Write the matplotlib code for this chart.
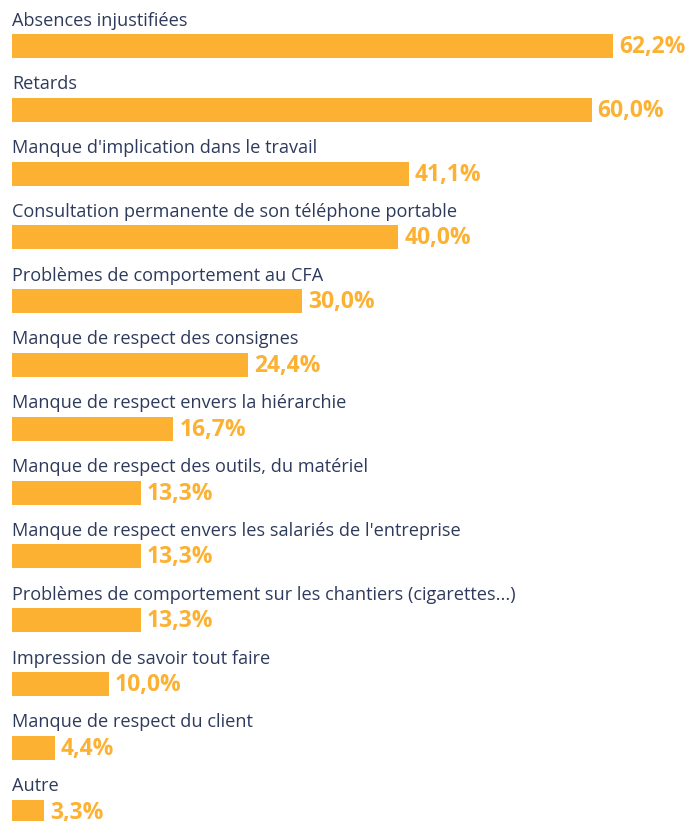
import matplotlib.pyplot as plt

categories = [
    "Absences injustifiées",
    "Retards",
    "Manque d'implication dans le travail",
    "Consultation permanente de son téléphone portable",
    "Problèmes de comportement au CFA",
    "Manque de respect des consignes",
    "Manque de respect envers la hiérarchie",
    "Manque de respect des outils, du matériel",
    "Manque de respect envers les salariés de l'entreprise",
    "Problèmes de comportement sur les chantiers (cigarettes...)",
    "Impression de savoir tout faire",
    "Manque de respect du client",
    "Autre",
]
values = [62.2, 60.0, 41.1, 40.0, 30.0, 24.4, 16.7, 13.3, 13.3, 13.3, 10.0, 4.4, 3.3]

bar_color = "#FDB133"
text_color = "#2E3A5C"

W, H = 692, 821
fig = plt.figure(figsize=(W / 100, H / 100), dpi=100)
ax = fig.add_axes([0, 0, 1, 1])

# pixel-like layout: x in percent, y in pixels from top
px_per_pct = 601 / 62.2
ax.set_xlim(-12 / px_per_pct, (W - 12) / px_per_pct)
ax.set_ylim(H, 0)
ax.axis("off")

row_h = 63.8
ys = [46 + i * row_h for i in range(len(values))]

ax.barh(ys, values, height=24, color=bar_color, left=0)
for y, cat, v in zip(ys, categories, values):
    ax.text(0, y - 25.5, cat, fontsize=13.05, color=text_color,
            family="Open Sans", va="center", ha="left")
    ax.text(v + 6 / px_per_pct, y + 1, f"{v:.1f}%".replace(".", ","),
            fontsize=16.5, fontweight="bold", color=bar_color,
            family="Open Sans", va="center", ha="left")

fig.savefig("out.png", dpi=100)
